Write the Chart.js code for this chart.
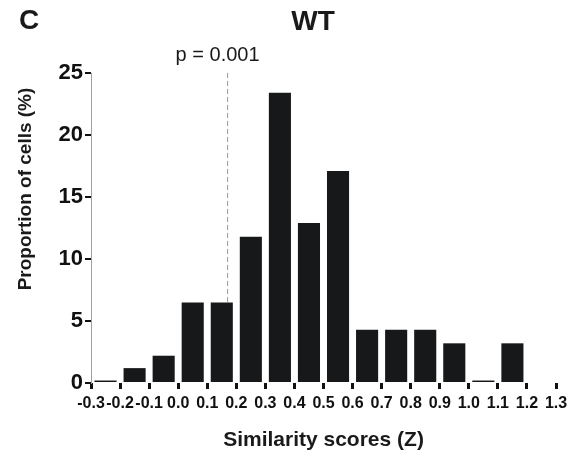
<!DOCTYPE html>
<html>
<head>
<meta charset="utf-8">
<script src="https://cdn.jsdelivr.net/npm/chart.js@4"></script>
<style>
  body { margin: 0; background: #fff; }
  canvas { display: block; }
</style>
</head>
<body>
<canvas id="chart" width="575" height="461"></canvas>
<script>
// Данные гистограммы (центры интервалов и доли клеток, %)
const binCenters = [-0.25, -0.15, -0.05, 0.05, 0.15, 0.25, 0.35, 0.45, 0.55, 0.65, 0.75, 0.85, 0.95, 1.05, 1.15, 1.25];
const proportions = [0.2, 1.2, 2.2, 6.5, 6.5, 11.8, 23.4, 12.9, 17.1, 4.3, 4.3, 4.3, 3.2, 0.2, 3.2, 0];
const xTicks = [-0.3, -0.2, -0.1, 0.0, 0.1, 0.2, 0.3, 0.4, 0.5, 0.6, 0.7, 0.8, 0.9, 1.0, 1.1, 1.2, 1.3];
const yTicks = [0, 5, 10, 15, 20, 25];
const pThreshold = 0.17;

const font = "'Liberation Sans', Arial, sans-serif";

// Пунктирная линия порога (под столбиками)
const threshold = {
    id: 'threshold',
    beforeDatasetsDraw(chart) {
        const ctx = chart.ctx;
        const px = chart.scales.x.getPixelForValue(pThreshold);
        const y = chart.scales.y;
        ctx.save();
        ctx.strokeStyle = '#9a9a9a';
        ctx.lineWidth = 1;
        ctx.setLineDash([5, 3]);
        ctx.beginPath();
        ctx.moveTo(px, y.getPixelForValue(25));
        ctx.lineTo(px, y.getPixelForValue(0));
        ctx.stroke();
        ctx.restore();
    }
};

// Подписи, заголовок и название оси Y
const extras = {
    id: 'extras',
    afterDraw(chart) {
        const ctx = chart.ctx;
        const px = chart.scales.x.getPixelForValue(pThreshold);
        ctx.save();
        ctx.fillStyle = '#1a1a1a';
        ctx.textAlign = 'center';
        ctx.textBaseline = 'middle';
        ctx.font = '20px ' + font;
        ctx.fillText('p = 0.001', px - 10, 55);

        ctx.font = 'bold 28px ' + font;
        ctx.fillText('WT', 313, 22);
        ctx.fillText('C', 29, 21);

        ctx.translate(26, 189);
        ctx.rotate(-Math.PI / 2);
        ctx.font = 'bold 19px ' + font;
        ctx.fillText('Proportion of cells (%)', 0, 0);
        ctx.restore();
    }
};

new Chart(document.getElementById('chart'), {
    type: 'bar',
    data: {
        datasets: [{
            data: binCenters.map((c, i) => ({ x: c, y: proportions[i] })),
            backgroundColor: '#16181a',
            borderWidth: 0,
            barPercentage: 0.76,
            categoryPercentage: 1
        }]
    },
    options: {
        responsive: false,
        animation: false,
        layout: { padding: { left: 0, right: 19, top: 73, bottom: 0 } },
        plugins: {
            legend: { display: false },
            tooltip: { enabled: false }
        },
        scales: {
            x: {
                type: 'linear',
                min: -0.3,
                max: 1.3,
                offset: false,
                afterBuildTicks: s => { s.ticks = xTicks.map(v => ({ value: v })); },
                afterFit: s => { s.height = 78; },
                grid: { offset: false, drawOnChartArea: false, tickLength: 6, lineWidth: 3, color: '#111' },
                border: { display: false },
                ticks: {
                    autoSkip: false,
                    maxRotation: 0,
                    padding: 5,
                    color: '#111',
                    font: { family: font, size: 16, weight: 'bold' },
                    callback: v => v.toFixed(1)
                },
                title: {
                    display: true,
                    text: 'Similarity scores (Z)',
                    color: '#1a1a1a',
                    font: { family: font, size: 21, weight: 'bold' },
                    padding: { top: 0, bottom: 8 }
                }
            },
            y: {
                min: 0,
                max: 25,
                afterBuildTicks: s => { s.ticks = yTicks.map(v => ({ value: v })); },
                afterFit: s => { s.width = 91; },
                grid: { drawOnChartArea: false, tickLength: 6, lineWidth: 2, color: '#111' },
                border: { color: '#a0a0a0', width: 1 },
                ticks: {
                    padding: 2,
                    color: '#111',
                    font: { family: font, size: 22, weight: 'bold' }
                }
            }
        }
    },
    plugins: [threshold, extras]
});
</script>
</body>
</html>
